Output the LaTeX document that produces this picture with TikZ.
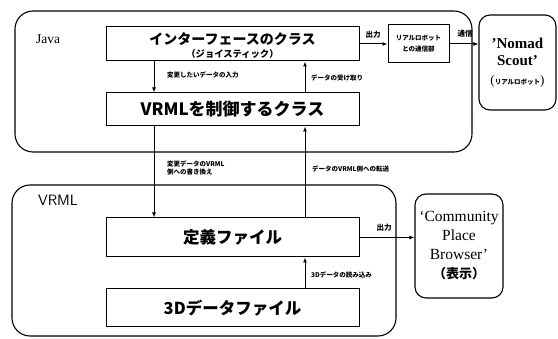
\documentclass[tikz,border=0pt]{standalone}
\usepackage{fontspec}
\setmainfont{Liberation Serif}
\newfontfamily\jp{Noto Sans CJK JP}
\usetikzlibrary{arrows.meta}
\begin{document}
\begin{tikzpicture}[x=1pt,y=-1pt,
  box/.style={draw, line width=1pt, inner sep=0pt, minimum width=253pt, align=center},
  group/.style={draw, line width=1.1pt, rounded corners=18pt, inner sep=0pt},
  ext/.style={draw, line width=1.1pt, rounded corners=11pt, inner sep=0pt, align=center},
  arr/.style={line width=1pt, -{Latex[length=5pt,width=4pt]}},
  lbl/.style={font=\jp\bfseries\fontsize{6.5}{8.5}\selectfont, inner sep=0pt, anchor=west, align=left},
  ttl/.style={font=\jp\bfseries\fontsize{16.5}{18}\selectfont},
]
\useasboundingbox (0,0) rectangle (558,339);
% groups
\node[group, minimum width=457pt, minimum height=141pt] (java) at (243.5,81.5) {};
\node[group, minimum width=384pt, minimum height=151pt] (vrml) at (204,260.5) {};
\node[font=\fontsize{13.5}{15}\selectfont, inner sep=0pt] (javalbl) at (48,39) {Java};
\node[font=\sffamily\fontsize{15}{17}\selectfont, inner sep=0pt] (vrmllbl) at (58,200) {VRML};
% boxes
\node[box, minimum height=34pt] (iface) at (232.5,44) {};
\node[font=\jp\bfseries\fontsize{14}{16}\selectfont, inner sep=0pt] (ifacet) at (232.5,39) {インターフェースのクラス};
\node[font=\jp\bfseries\fontsize{9.3}{11}\selectfont, inner sep=0pt] (ifaces) at (232.5,54) {（ジョイスティック）};
\node[box, minimum height=33pt, font=\jp\bfseries\fontsize{17}{19}\selectfont] (ctrl) at (232.5,109.5) {VRMLを制御するクラス};
\node[box, minimum height=39pt, ttl] (def) at (232.5,237.5) {定義ファイル};
\node[box, minimum height=38pt, ttl] (data) at (232.5,308) {3Dデータファイル};
\node[draw, line width=1pt, minimum width=61pt, minimum height=38pt, inner sep=0pt, align=center,
  font=\jp\bfseries\fontsize{6.5}{11}\selectfont] (comm) at (418.5,44) {リアルロボット\\との通信部};
\node[ext, minimum width=77pt, minimum height=95pt, font=\bfseries\fontsize{15}{17}\selectfont] (nomad) at (517.5,62.5)
  {'Nomad\\Scout'\\[2pt]{\mdseries\fontsize{13}{15}\selectfont(}{\jp\bfseries\fontsize{6.5}{8}\selectfont リアルロボット}{\mdseries\fontsize{13}{15}\selectfont)}};
\node[ext, minimum width=88pt, minimum height=104pt, font=\fontsize{15.5}{19}\selectfont] (cpb) at (459,246)
  {`Community\\Place\\Browser'\\{\jp\bfseries\fontsize{13}{19}\selectfont（表示）}};
% x positions of the vertical connectors
\coordinate (xa) at (154,0);
\coordinate (xb) at (305,0);
% connectors
\draw[arr] (iface.east) -- (comm.west);
\draw[arr] (comm.east) -- (comm.east -| nomad.west);
\draw[arr] (iface.south -| xa) -- (ctrl.north -| xa);
\draw[arr] (ctrl.north -| xb) -- (iface.south -| xb);
\draw[arr] (ctrl.south -| xa) -- (def.north -| xa);
\draw[arr] (def.north -| xb) -- (ctrl.south -| xb);
\draw[arr] (data.north -| xb) -- (def.south -| xb);
\draw[arr] (def.east) -- (def.east -| cpb.west);
% labels
\node[lbl, font=\jp\bfseries\fontsize{7.5}{9}\selectfont, anchor=center] (o1) at (373,35) {出力};
\node[lbl, font=\jp\bfseries\fontsize{7.5}{9}\selectfont, anchor=center] (c1) at (465,34) {通信};
\node[lbl, font=\jp\bfseries\fontsize{7.5}{9}\selectfont, anchor=center] (o2) at (384,228) {出力};
\node[lbl] (l1) at (167,75) {変更したいデータの入力};
\node[lbl] (l2) at (311,78) {データの受け取り};
\node[lbl] (l3) at (167,168) {変更データのVRML\\側への書き換え};
\node[lbl] (l4) at (312,169) {データのVRML側への転送};
\node[lbl] (l5) at (311,275) {3Dデータの読み込み};
\end{tikzpicture}
\end{document}
